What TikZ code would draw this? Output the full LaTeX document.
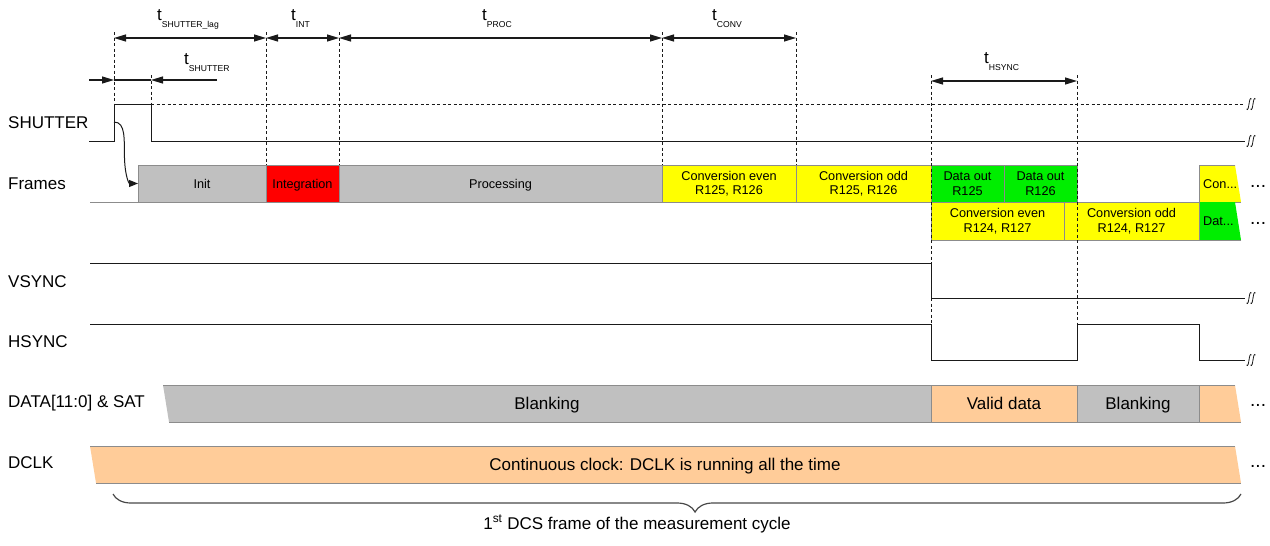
\documentclass[tikz,border=0pt]{standalone}
\usepackage{fontspec}
\setmainfont{Liberation Sans}
\usetikzlibrary{arrows.meta,decorations.pathreplacing}
\definecolor{boxgray}{HTML}{C0C0C0}
\definecolor{bord}{HTML}{8C8C8C}
\definecolor{yel}{HTML}{FFFF00}
\definecolor{grn}{HTML}{00EE00}
\definecolor{redbox}{HTML}{FF0000}
\definecolor{org}{HTML}{FFCC99}
\definecolor{sigcol}{HTML}{1A1A1A}
\newcommand{\tlab}[1]{t\raisebox{-7pt}{\fontsize{8.6}{9}\selectfont #1}}
\newcommand{\fbx}[8]{\node[fbox,#8,fill=#6,minimum width={(#3-#2)*1pt},minimum height={(#5-#4)*1pt}] (#1) at ({(#2+#3)/2},{(#4+#5)/2}) {#7};}
\tikzset{
  sig/.style={draw=sigcol,line width=1pt},
  grid/.style={draw=sigcol,line width=0.9pt,dash pattern=on 3pt off 2.5pt},
  dim/.style={draw=sigcol,line width=1.1pt},
  tip/.tip={Triangle[length=12pt,width=7pt]},
  fbox/.style={draw=bord,line width=1pt,inner sep=0pt,outer sep=0pt,align=center},
  onesmall/.style={text height=9.1pt,text depth=0pt},
  onebig/.style={text height=12.2pt,text depth=0pt},
  small/.style={font=\fontsize{12.7}{14.5}\selectfont},
  big/.style={font=\fontsize{17}{19}\selectfont},
  lab/.style={anchor=west,inner sep=0pt,font=\fontsize{17}{19}\selectfont},
  tl/.style={anchor=base west,inner sep=0pt,font=\fontsize{17}{19}\selectfont},
  dots/.style={anchor=base west,inner sep=0pt,font=\fontsize{19}{19}\selectfont},
  brkmark/.pic={
    \draw[sigcol,line width=0.8pt] (-2.5,5) .. controls (-1,7) and (-0.5,3) .. (0,0) .. controls (0.5,-3) and (1,-7) .. (2.5,-5);
    \draw[sigcol,line width=0.8pt] (1.5,5) .. controls (3,7) and (3.5,3) .. (4,0) .. controls (4.5,-3) and (5,-7) .. (6.5,-5);
  }
}
\begin{document}
\begin{tikzpicture}[x=1pt,y=-1pt]
\useasboundingbox (0,0) rectangle (1270,546);

% row labels
\node[lab] (lshutter) at (8,123) {SHUTTER};
\node[lab] (lframes) at (8,184) {Frames};
\node[lab] (lvsync) at (8,282) {VSYNC};
\node[lab] (lhsync) at (8,342) {HSYNC};
\node[lab] (ldata) at (8,403) {DATA[11:0] \& SAT};
\node[lab] (ldclk) at (8,463) {DCLK};

% timing coordinates
\coordinate (d0) at (114,38);
\coordinate (d1) at (266,38);
\coordinate (d2) at (339,38);
\coordinate (d3) at (662,38);
\coordinate (d4) at (796,38);
\coordinate (s0) at (89,80);
\coordinate (s1) at (114,80);
\coordinate (s2) at (151,80);
\coordinate (s3) at (217,80);
\coordinate (h0) at (931,81);
\coordinate (h1) at (1077,81);

% timing labels
\node[tl] (tlag) at (157,20) {\tlab{SHUTTER\_lag}};
\node[tl] (tint) at (291,20) {\tlab{INT}};
\node[tl] (tproc) at (482,20) {\tlab{PROC}};
\node[tl] (tconv) at (712,20) {\tlab{CONV}};
\node[tl] (tshut) at (184,64) {\tlab{SHUTTER}};
\node[tl] (thsync) at (984,63) {\tlab{HSYNC}};

% dimension arrows
\draw[dim,tip-tip] (d0) -- (d1);
\draw[dim,tip-tip] (d1) -- (d2);
\draw[dim,tip-tip] (d2) -- (d3);
\draw[dim,tip-tip] (d3) -- (d4);
\draw[dim,-tip] (s0) -- (s1);
\draw[dim] (s1) -- (s2);
\draw[dim,-tip] (s3) -- (s2);
\draw[dim,tip-tip] (h0) -- (h1);

% frames row
\draw[bord,line width=1pt] (90,202) -- (138,202);
\fbx{init}{138}{266}{165}{202}{boxgray}{Init}{small,onesmall}
\fbx{integ}{266}{339}{165}{202}{redbox}{Integration}{small,onesmall}
\fbx{proc}{339}{662}{165}{202}{boxgray}{Processing}{small,onesmall}
\fbx{ce1}{662}{796}{165}{202}{yel}{Conversion even\\R125, R126}{small}
\fbx{co1}{796}{931}{165}{202}{yel}{Conversion odd\\R125, R126}{small}
\fbx{do1}{931}{1004}{165}{202}{grn}{Data out\\R125}{small}
\fbx{do2}{1004}{1077}{165}{202}{grn}{Data out\\R126}{small}
\fbx{ce2}{931}{1064}{202}{240}{yel}{Conversion even\\R124, R127}{small}
\fbx{co2}{1064}{1199}{202}{240}{yel}{Conversion odd\\R124, R127}{small}
\fill[yel] (1199,165) -- (1235,165) -- (1241,202) -- (1199,202) -- cycle;
\draw[bord,line width=1pt] (1235,165) -- (1199,165) -- (1199,202) -- (1241,202);
\node[small,anchor=base west,inner sep=0pt] (con) at (1203,188.5) {Con...};
\fill[grn] (1199,202) -- (1235,202) -- (1241,240) -- (1199,240) -- cycle;
\draw[bord,line width=1pt] (1199,202) -- (1199,240) -- (1241,240);
\node[small,anchor=base west,inner sep=0pt] (dat) at (1203,225.5) {Dat...};
\node[dots] (dots1) at (1250,187) {...};
\node[dots] (dots2) at (1250,224) {...};

% data row
\fill[boxgray] (163,385) -- (931,385) -- (931,422) -- (169,422) -- cycle;
\node[big,anchor=base] (blank1) at (547,409.5) {Blanking};
\fbx{valid}{931}{1077}{385}{422}{org}{Valid data}{big,onebig}
\fbx{blank2}{1077}{1199}{385}{422}{boxgray}{Blanking}{big,onebig}
\fill[org] (1199,385) -- (1235,385) -- (1241,422) -- (1199,422) -- cycle;
\draw[bord,line width=1pt] (163,385) -- (1235,385);
\draw[bord,line width=1pt] (169,422) -- (1241,422);
\draw[bord,line width=1pt] (1199,385) -- (1199,422);
\node[dots] (dots3) at (1250,406) {...};

% dclk row
\fill[org] (90,446) -- (1235,446) -- (1241,483) -- (96,483) -- cycle;
\draw[bord,line width=1pt] (90,446) -- (1235,446);
\draw[bord,line width=1pt] (96,483) -- (1241,483);
\node[big,anchor=base] (clk) at (665,470) {Continuous clock: DCLK is running all the time};
\node[dots] (dots4) at (1250,467) {...};

% signals
\draw[sig] (89,141) -- (114,141) -- (114,104) -- (151,104) -- (151,141) -- (1245,141);
\draw[grid] (151,104) -- (1245,104);
\draw[sig] (90,263) -- (931,263) -- (931,298) -- (1245,298);
\draw[sig] (90,324) -- (931,324) -- (931,360) -- (1077,360) -- (1077,324) -- (1199,324) -- (1199,360) -- (1245,360);
\pic at (1249,104) {brkmark};
\pic at (1249,141) {brkmark};
\pic at (1249,298) {brkmark};
\pic at (1249,360) {brkmark};

% dashed guides
\draw[grid] (114,32) -- (114,104);
\draw[grid] (151,75) -- (151,104);
\draw[grid] (266,32) -- (266,165);
\draw[grid] (339,32) -- (339,165);
\draw[grid] (662,32) -- (662,165);
\draw[grid] (796,32) -- (796,165);
\draw[grid] (931,75) -- (931,263);
\draw[grid] (931,298) -- (931,324);
\draw[grid] (1077,75) -- (1077,324);

% trigger arrow
\coordinate (trig) at (114,122);
\draw[sig,-{Triangle[length=9pt,width=7pt]}] (trig) .. controls (126,122) and (124,140) .. (124.5,158) .. controls (125,176) and (129,183.5) .. (init.west);

% brace
\draw[decorate,decoration={brace,mirror,amplitude=18pt,aspect=0.516},draw=sigcol!80,line width=1.2pt] (113,494) -- (1241,494);
\node[big,anchor=base] (cyc) at (637,529) {1\textsuperscript{st} DCS frame of the measurement cycle};
\end{tikzpicture}
\end{document}
